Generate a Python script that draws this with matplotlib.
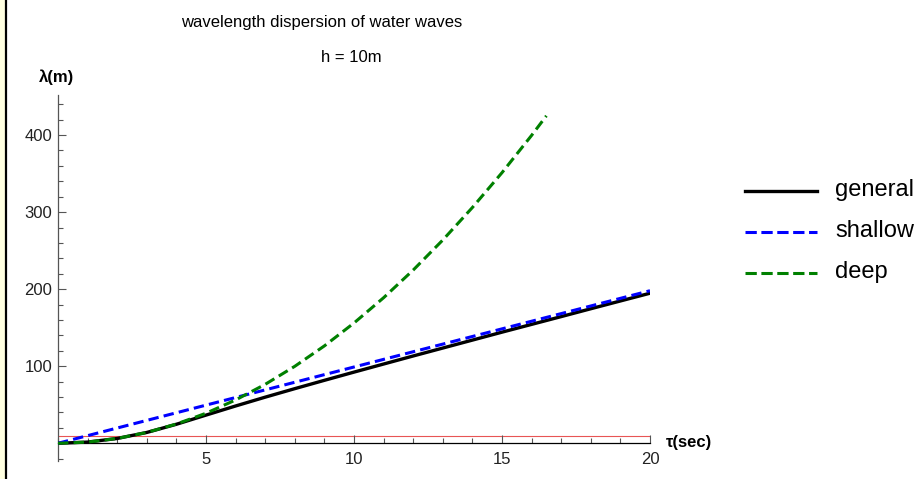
import numpy as np
import matplotlib
matplotlib.use("Agg")
import matplotlib.pyplot as plt
from matplotlib.lines import Line2D
from matplotlib.patches import Rectangle
from matplotlib.ticker import MultipleLocator, FixedLocator

plt.rcParams['font.family'] = ['Liberation Sans', 'DejaVu Sans']

# === DATA ===
tau = [0, 1, 2, 3, 4, 5, 6, 7, 8, 9, 10, 11, 12, 13, 14, 15, 16, 17, 18, 19, 20]
lam_general = [0, 1.56, 6.24, 14.05, 24.67, 36.56, 48.4, 59.85, 70.9, 81.7, 92.35,
               102.85, 113.3, 123.6, 133.9, 144.2, 154.3, 164.4, 174.6, 184.7, 194.75]
lam_shallow = [0, 9.9, 19.8, 29.7, 39.6, 49.5, 59.4, 69.3, 79.2, 89.1, 99.0,
               108.9, 118.8, 128.7, 138.6, 148.5, 158.4, 168.3, 178.2, 188.1, 198.0]
tau_deep = [0, 1, 2, 3, 4, 5, 6, 7, 8, 9, 10, 11, 12, 13, 14, 15, 16, 16.5]
lam_deep = [0, 1.56, 6.24, 14.05, 24.98, 39.0, 56.2, 76.5, 99.9, 126.4, 156.1,
            188.9, 224.8, 263.8, 306.0, 351.2, 399.6, 425.0]
depth = 10
x_ticks = [5, 10, 15, 20]
y_ticks = [100, 200, 300, 400]
labels = ["general", "shallow", "deep"]
colors = ["black", "#0000ff", "#008000"]

W, H = 920, 479


def px(x, y):
    return x / W, 1 - y / H


fig = plt.figure(figsize=(W / 100, H / 100), dpi=100)

# notebook cell strip on the left
fig.add_artist(Rectangle((0, 0), 5 / W, 1, transform=fig.transFigure,
                         facecolor="#ffffe0", edgecolor="none"))
fig.add_artist(Line2D([6 / W, 6 / W], [0, 1], transform=fig.transFigure,
                      color="black", lw=1.6))

ax = fig.add_axes([58 / W, (H - 461) / H, 592 / W, 366 / H])
ax.set_xlim(0, 20)
ax.set_ylim(-23, 452)

dash = (3.4, 1.7)
ax.plot([0, 20], [depth, depth], color="#e85555", lw=0.8, zorder=1)
ax.plot(tau, lam_general, color=colors[0], lw=2.4, zorder=3)
ax.plot(tau, lam_shallow, color=colors[1], lw=2.2, dashes=dash, zorder=4)
ax.plot(tau_deep, lam_deep, color=colors[2], lw=2.2, dashes=dash, zorder=4)

# axes through origin, Mathematica style
for s in ["top", "right"]:
    ax.spines[s].set_visible(False)
ax.spines["left"].set_position(("data", 0))
ax.spines["bottom"].set_position(("data", 0))
ax.spines["left"].set_color("#555555")
ax.spines["bottom"].set_color("black")
ax.spines["left"].set_linewidth(0.9)
ax.spines["bottom"].set_linewidth(0.9)

ax.xaxis.set_major_locator(FixedLocator(x_ticks))
ax.xaxis.set_minor_locator(MultipleLocator(1))
ax.yaxis.set_major_locator(FixedLocator(y_ticks))
ax.yaxis.set_minor_locator(MultipleLocator(20))
ax.tick_params(which="both", direction="in", color="#555555", width=0.8,
               labelsize=12, labelcolor="#222222")
ax.tick_params(which="major", length=6)
ax.tick_params(which="minor", length=3.5)
ax.tick_params(axis="x", pad=6)
ax.tick_params(axis="y", pad=4)

# axis labels
fig.text(*px(57, 77), "λ(m)", fontsize=12, fontweight="bold", ha="center", va="center")
fig.text(*px(666, 442), "τ(sec)", fontsize=12, fontweight="bold", ha="left", va="center")

# title
fig.text(*px(322, 22), "wavelength dispersion of water waves", fontsize=12,
         ha="center", va="center")
fig.text(*px(351, 57), "h = 10m", fontsize=12, ha="center", va="center")

# legend
leg_y = [191, 232, 273]
for lab, col, yy in zip(labels, colors, leg_y):
    x0, y0 = px(745, yy)
    x1, _ = px(817, yy)
    if lab == "general":
        ln = Line2D([x0, x1], [y0, y0], transform=fig.transFigure, color=col, lw=2.4)
    else:
        ln = Line2D([x0, x1], [y0, y0], transform=fig.transFigure, color=col, lw=2.2,
                    dashes=(3.7, 1.5))
    fig.add_artist(ln)
    fig.text(*px(835, yy - 1), lab, fontsize=17, ha="left", va="center")

fig.savefig("out.png", dpi=100)
